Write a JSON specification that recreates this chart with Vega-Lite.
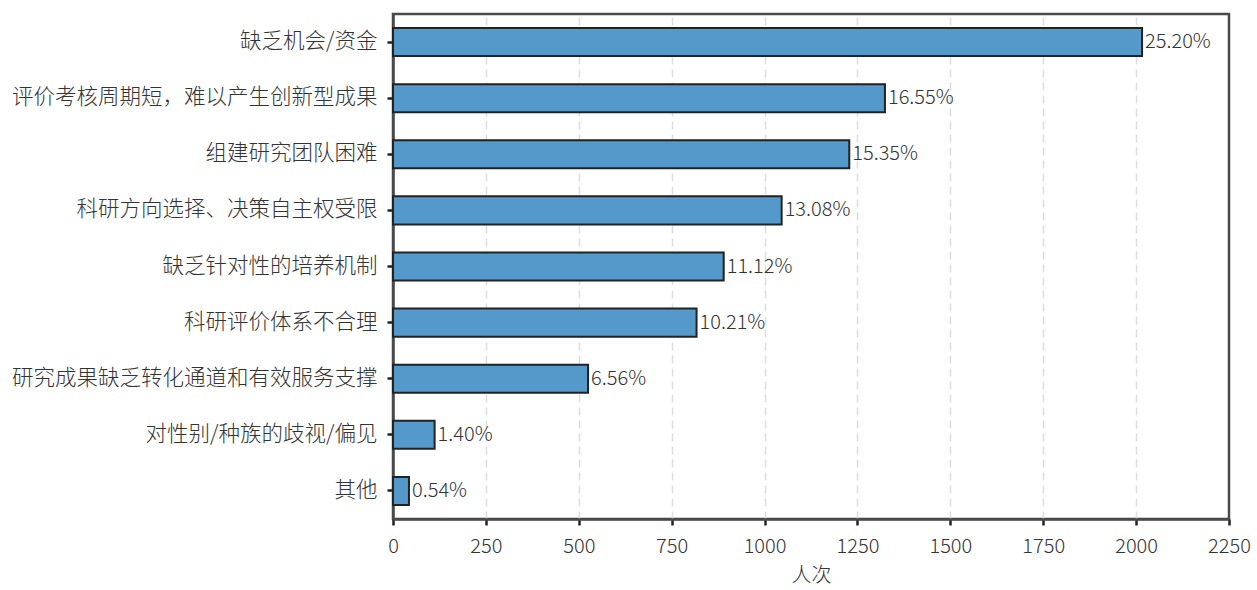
{
  "$schema": "https://vega.github.io/schema/vega-lite/v6.json",
  "autosize": "none",
  "width": 836,
  "height": 505,
  "padding": {"left": 393, "top": 14, "right": 28, "bottom": 71},
  "background": "white",
  "config": {
    "font": "Noto Sans CJK SC",
    "view": {"stroke": "#4a4a4a", "strokeWidth": 2.5},
    "axis": {
      "labelFont": "Noto Sans CJK SC",
      "titleFont": "Noto Sans CJK SC",
      "labelFontSize": 20,
      "titleFontSize": 20,
      "labelColor": "#333",
      "titleColor": "#333",
      "labelFontWeight": 300,
      "titleFontWeight": 300,
      "labelLimit": 0,
      "tickColor": "#222",
      "tickWidth": 2.5,
      "tickSize": 6,
      "domainColor": "#4a4a4a",
      "domainWidth": 2.5
    }
  },
  "data": {
    "values": [
      {"category": "缺乏机会/资金", "count": 2016, "pct": "25.20%"},
      {"category": "评价考核周期短，难以产生创新型成果", "count": 1324, "pct": "16.55%"},
      {"category": "组建研究团队困难", "count": 1228, "pct": "15.35%"},
      {"category": "科研方向选择、决策自主权受限", "count": 1046, "pct": "13.08%"},
      {"category": "缺乏针对性的培养机制", "count": 890, "pct": "11.12%"},
      {"category": "科研评价体系不合理", "count": 817, "pct": "10.21%"},
      {"category": "研究成果缺乏转化通道和有效服务支撑", "count": 525, "pct": "6.56%"},
      {"category": "对性别/种族的歧视/偏见", "count": 112, "pct": "1.40%"},
      {"category": "其他", "count": 43, "pct": "0.54%"}
    ]
  },
  "encoding": {
    "y": {
      "field": "category",
      "type": "nominal",
      "sort": null,
      "scale": {"paddingInner": 0.5, "paddingOuter": 0.25},
      "axis": {"title": null, "labelPadding": 10, "grid": false, "labelFontSize": 21.5}
    },
    "x": {
      "field": "count",
      "type": "quantitative",
      "scale": {"domain": [0, 2250], "nice": false},
      "axis": {
        "title": "人次",
        "format": "d",
        "labelFlush": false,
        "values": [0, 250, 500, 750, 1000, 1250, 1500, 1750, 2000, 2250],
        "grid": true,
        "gridColor": "#dddddd",
        "gridDash": [8, 5],
        "gridWidth": 1.5,
        "gridOpacity": {"condition": {"test": "datum.value >= 2250 || datum.value <= 0", "value": 0}, "value": 1},
        "labelPadding": 11,
        "titlePadding": 9
      }
    }
  },
  "layer": [
    {
      "mark": {"type": "bar", "fill": "#5499C9", "stroke": "#222222", "strokeWidth": 2}
    },
    {
      "mark": {"type": "text", "align": "left", "baseline": "middle", "dx": 3, "fontSize": 20, "fontWeight": 300, "color": "#333", "font": "Noto Sans CJK SC"},
      "encoding": {"text": {"field": "pct"}}
    }
  ]
}
